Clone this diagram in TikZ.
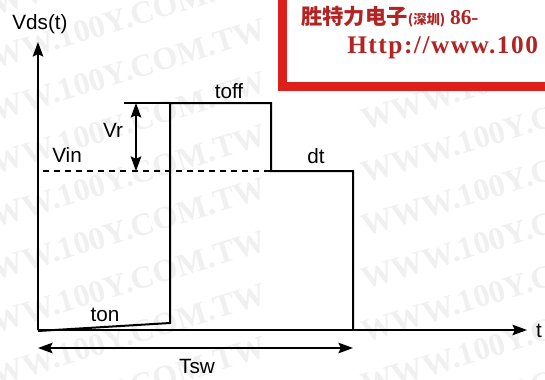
\documentclass[tikz,border=0pt]{standalone}
\usepackage{fontspec}
\setmainfont{Liberation Sans}
\newfontfamily\wmfont{Liberation Serif}
\newfontfamily\cjkfont{Noto Sans CJK SC}
\usetikzlibrary{arrows.meta}
\definecolor{bannerred}{RGB}{222,32,28}
\definecolor{bannertext}{RGB}{178,36,36}

\begin{document}
\begin{tikzpicture}[x=0.75pt,y=-0.75pt]
\tikzstyle{label} = [font=\fontsize{15.5}{18}\selectfont, inner sep=0pt, anchor=base];
\tikzstyle{axis} = [draw, line width=0.8pt, -{Stealth[length=11pt,width=8pt,inset=2pt]}];
\tikzstyle{dimline} = [draw, line width=1pt, {Stealth[length=11pt,width=8pt,inset=2pt]}-{Stealth[length=11pt,width=8pt,inset=2pt]}];
\tikzstyle{wave} = [draw, line width=1.5pt, line join=miter];
\tikzstyle{level} = [draw, line width=0.8pt, dash pattern=on 4.5pt off 3.8pt];
\tikzstyle{watermark} = [font=\wmfont\bfseries\fontsize{24}{24}\selectfont, text=black!6,
rotate=17, anchor=base west, inner sep=0pt];
\tikzstyle{banner} = [inner sep=0pt, anchor=base west, text=bannertext];

\useasboundingbox (0,0) rectangle (545,379);
\begin{scope}
\clip (0,0) rectangle (545,379);
% watermark rows
\foreach \r in {-1,...,8} {
\node[watermark] (wmL\r) at (-35,25+53*\r) {WWW.100Y.COM.TW};
\node[watermark] (wmR\r) at (365,25+53*\r) {WWW.100Y.COM.TW};
}
% banner
\fill[white] (282,-20) rectangle (600,86);
\draw[bannerred, line width=6.75pt] (282.5,-20) rectangle (600,86.5);
\node[banner] (company) at (301,24) {\cjkfont\bfseries\fontsize{16}{16}\selectfont 胜特力电子{\fontsize{10}{10}\selectfont(深圳)} {\wmfont 86-}};
\node[banner] (website) at (347,53) {\wmfont\bfseries\fontsize{19}{19}\selectfont\addfontfeature{LetterSpace=6}Http://www.100};
\end{scope}

% axes
\coordinate (O) at (38,330);
\coordinate (ytip) at (38,42);
\coordinate (xtip) at (527,330);
\path[axis] (O) -- (ytip);
\path[axis] (O) -- (xtip);
\node[label] (vds) at (40,29) {Vds(t)};
\node[label] (t) at (539,337) {t};

% waveform
\coordinate (w0) at (38,331);
\coordinate (w1) at (170,323);
\coordinate (w2) at (170,103);
\coordinate (w3) at (271,103);
\coordinate (w4) at (271,171);
\coordinate (w5) at (353,171);
\coordinate (w6) at (353,330);
\path[wave] (w0) -- (w1) -- (w2) -- (w3) -- (w4) -- (w5) -- (w6);

% Vin level and Vr
\coordinate (vin) at (43,171);
\path[level] (vin) -- (w4);
\coordinate (vrtick) at (124,103);
\path[draw, line width=0.8pt] (vrtick) -- (w2);
\coordinate (vrtop) at (136,103);
\coordinate (vrbot) at (136,171);
\path[dimline] (vrtop) -- (vrbot);

% Tsw
\coordinate (tswL) at (38,348);
\coordinate (tswR) at (353,348);
\path[dimline] (tswL) -- (tswR);

% labels
\node[label] (toff) at (229,98) {toff};
\node[label] (vr) at (113,137) {Vr};
\node[label] (vinlabel) at (67,162) {Vin};
\node[label] (dt) at (316,163) {dt};
\node[label] (ton) at (105,321) {ton};
\node[label] (tsw) at (197,373) {Tsw};
\end{tikzpicture}
\end{document}
